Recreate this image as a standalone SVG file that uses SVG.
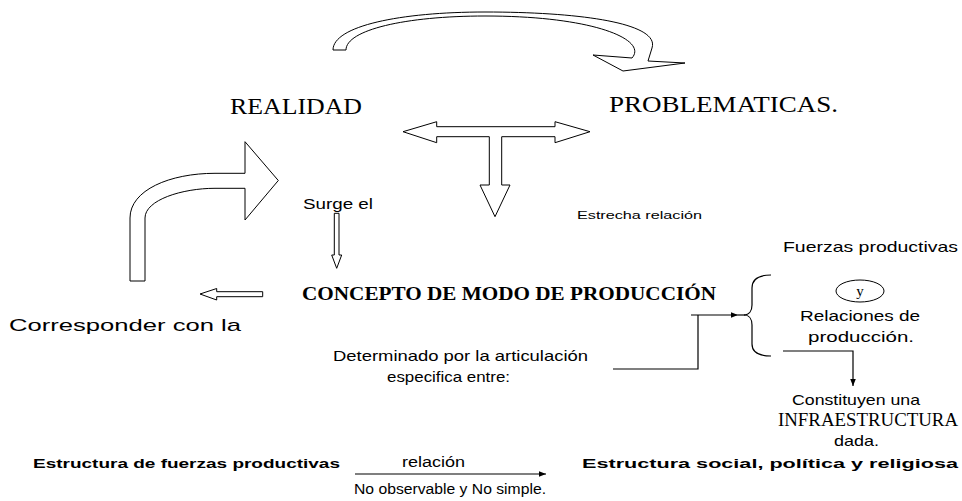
<svg xmlns="http://www.w3.org/2000/svg" width="962" height="501" viewBox="0 0 962 501">
<defs>
<style>
.blk{fill:#fff;stroke:#000;stroke-width:1}
.ln{fill:none;stroke:#000;stroke-width:1.2}
.sans{font-family:"Liberation Sans",Arial,sans-serif;fill:#000}
.serif{font-family:"Liberation Serif","Times New Roman",serif;fill:#000}
</style>
<marker id="ah" viewBox="0 0 10 10" refX="10" refY="5" markerWidth="7" markerHeight="7" markerUnits="userSpaceOnUse" orient="auto">
<path d="M0,1 L10,5 L0,9 Z" fill="#000"/>
</marker>
</defs>
<rect width="962" height="501" fill="#fff"/>

<g id="connectors">
<path id="top-curved-arrow" class="blk" d="M333,50 C333,26 400,12 485,12 C585,12 660,24 652,48 L648,61 L685,63 L623,71 L593,55 L632,58 C648,40 595,16 485,16 C405,16 346,30 346,50 Z"/>
<path id="t-arrow" class="blk" d="M403,131.7 L436.7,121.7 L436.7,126.7 L555,126.7 L555,121.7 L590,131.7 L555,142.7 L555,136.7 L501.7,136.7 L501.7,185 L510,185 L495,216.7 L480,185 L489.3,185 L489.3,136.7 L436.7,136.7 L436.7,142.7 Z"/>
<path id="bent-arrow" class="blk" d="M130,281 L130,218 C130,190 170,173.3 215,173.3 L245,173.3 L245,141.7 L278.3,180.5 L245,220 L245,188.3 L215,188.3 C182,188.3 145,200 145,218 L145,281 Z"/>
<path id="surge-arrow" class="blk" d="M334.3,213.3 L339,213.3 L339,255 L341.7,255 L336.7,268.3 L331.7,255 L334.3,255 Z"/>
<path id="left-arrow" class="blk" d="M200,294 L216.7,288.5 L216.7,291.7 L262.7,291.7 L262.7,296.7 L216.7,296.7 L216.7,300 Z"/>
<path class="ln" d="M613,369 H698 V315"/>
<path class="ln" d="M691,315 H738" marker-end="url(#ah)"/>
<path class="ln" d="M738,315 H745"/>
<path class="ln" d="M783,351 H853 V386" marker-end="url(#ah)"/>
<path class="ln" d="M355,474 H546" marker-end="url(#ah)"/>
</g>

<g id="brace">
<path class="ln" d="M771,275 C759,275 752,279 752,288 L752,305 C752,311 749,315 744,315 C749,315 752,319 752,325 L752,344 C752,352 759,356 771,356"/>
</g>

<g id="realidad"><text class="serif" x="230" y="114" font-size="23" textLength="132" lengthAdjust="spacingAndGlyphs">REALIDAD</text></g>
<g id="problematicas"><text class="serif" x="609" y="112" font-size="23" textLength="229" lengthAdjust="spacingAndGlyphs">PROBLEMATICAS.</text></g>
<g id="surge"><text class="sans" x="303" y="209" font-size="14" textLength="70" lengthAdjust="spacingAndGlyphs">Surge el</text></g>
<g id="estrecha"><text class="sans" x="577" y="219" font-size="11.5" textLength="125" lengthAdjust="spacingAndGlyphs">Estrecha relación</text></g>
<g id="fuerzas"><text class="sans" x="783" y="252" font-size="15" textLength="175" lengthAdjust="spacingAndGlyphs">Fuerzas productivas</text></g>
<g id="y-node">
<ellipse cx="860" cy="291" rx="24" ry="11" fill="#fff" stroke="#000" stroke-width="1"/>
<text class="serif" x="860" y="296" font-size="15" text-anchor="middle">y</text>
</g>
<g id="relaciones">
<text class="sans" x="800" y="321" font-size="15" textLength="120" lengthAdjust="spacingAndGlyphs">Relaciones de</text>
<text class="sans" x="808" y="342" font-size="15" textLength="106" lengthAdjust="spacingAndGlyphs">producción.</text>
</g>
<g id="concepto"><text class="serif" x="302" y="300" font-size="19" font-weight="bold" textLength="414" lengthAdjust="spacingAndGlyphs">CONCEPTO DE MODO DE PRODUCCIÓN</text></g>
<g id="corresponder"><text class="sans" x="9" y="331" font-size="17" textLength="232" lengthAdjust="spacingAndGlyphs">Corresponder con la</text></g>
<g id="determinado">
<text class="sans" x="333" y="361" font-size="15" textLength="255" lengthAdjust="spacingAndGlyphs">Determinado por la articulación</text>
<text class="sans" x="387" y="382" font-size="15" textLength="123" lengthAdjust="spacingAndGlyphs">especifica entre:</text>
</g>
<g id="infraestructura">
<text class="sans" x="792" y="405" font-size="15" textLength="128" lengthAdjust="spacingAndGlyphs">Constituyen una</text>
<text class="serif" x="778" y="426" font-size="19" textLength="180" lengthAdjust="spacingAndGlyphs">INFRAESTRUCTURA</text>
<text class="sans" x="834" y="446" font-size="15" textLength="45" lengthAdjust="spacingAndGlyphs">dada.</text>
</g>
<g id="estructura-fuerzas"><text class="sans" x="33" y="468" font-size="13.5" font-weight="bold" textLength="307" lengthAdjust="spacingAndGlyphs">Estructura de fuerzas productivas</text></g>
<g id="relacion-label">
<text class="sans" x="402" y="467" font-size="14" textLength="63" lengthAdjust="spacingAndGlyphs">relación</text>
<text class="sans" x="354" y="494" font-size="14" textLength="192" lengthAdjust="spacingAndGlyphs">No observable y No simple.</text>
</g>
<g id="estructura-social"><text class="sans" x="582" y="468" font-size="13.5" font-weight="bold" textLength="376" lengthAdjust="spacingAndGlyphs">Estructura social, política y religiosa</text></g>
</svg>
